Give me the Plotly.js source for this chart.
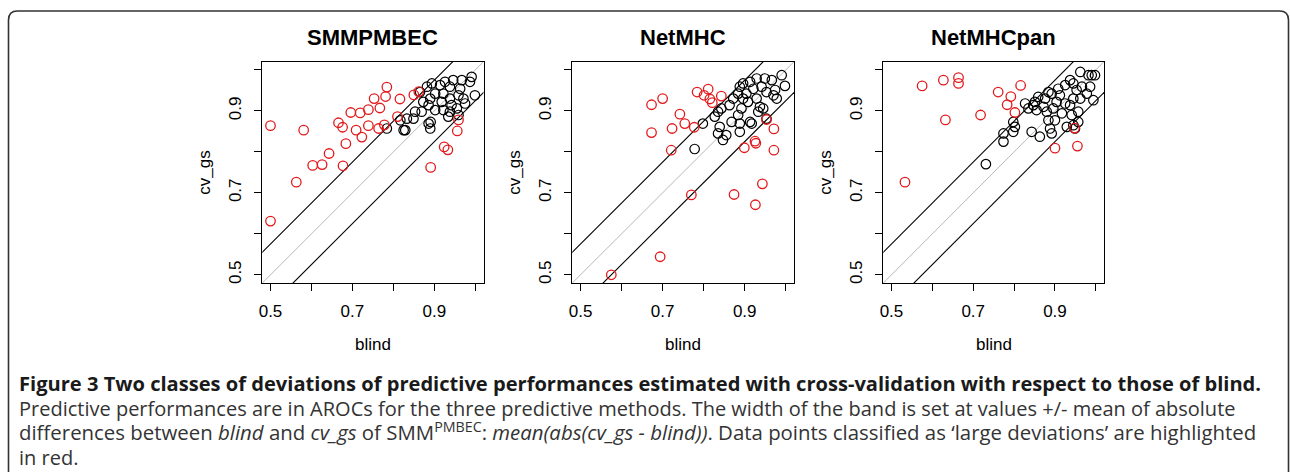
<!DOCTYPE html>
<html>
<head>
<meta charset="utf-8">
<script src="https://cdn.plot.ly/plotly-3.0.1.min.js"></script>
<style>html,body{margin:0;padding:0;background:#fff;}#chart{width:1290px;height:472px;}</style>
</head>
<body>
<div id="chart"></div>
<script>
// ---------- data (AROC values) ----------
const panelTitles = ['SMMPMBEC', 'NetMHC', 'NetMHCpan'];
const labelTickVals = [0.5, 0.7, 0.9];
const labelTickText = ['0.5', '0.7', '0.9'];
const minorTickVals = [0.6, 0.8, 1.0];
const bandHalfWidth = 0.075; // mean(abs(cv_gs - blind)) of SMM-PMBEC

// SMMPMBEC
const smmBlindLarge = [0.500,0.500,0.581,0.563,0.603,0.626,0.643,0.677,0.684,0.666,0.676,0.696,0.719,0.709,0.723,0.739,0.739,0.764,0.767,0.753,0.781,0.784,0.778,0.816,0.810,0.850,0.862,0.891,0.924,0.933,0.959,0.956];
const smmCvLarge    = [0.864,0.631,0.853,0.726,0.767,0.769,0.796,0.766,0.820,0.871,0.860,0.896,0.895,0.853,0.836,0.903,0.864,0.857,0.907,0.930,0.935,0.958,0.866,0.929,0.886,0.939,0.947,0.762,0.812,0.805,0.878,0.851];
const smmBlindSmall = [0.946,0.967,0.991,0.987,0.963,0.938,0.922,0.914,0.894,0.882,0.865,0.873,0.890,0.886,0.918,0.938,0.942,0.959,0.971,0.975,0.999,0.955,0.938,0.922,0.902,0.869,0.853,0.849,0.833,0.817,0.784,0.829,0.886,0.890,0.934,0.959,0.902,0.926,0.825,0.891];
const smmCvSmall    = [0.975,0.975,0.983,0.971,0.954,0.959,0.942,0.963,0.967,0.959,0.946,0.922,0.930,0.914,0.922,0.930,0.914,0.938,0.930,0.918,0.938,0.906,0.898,0.902,0.902,0.898,0.898,0.881,0.881,0.877,0.857,0.853,0.869,0.857,0.886,0.890,0.942,0.971,0.853,0.873];

// NetMHC
const netBlindLarge = [0.575,0.694,0.770,0.874,0.926,0.943,0.899,0.925,0.927,0.971,0.971,0.953,0.721,0.673,0.723,0.754,0.742,0.777,0.673,0.700,0.784,0.801,0.811,0.815,0.821,0.843];
const netCvLarge    = [0.500,0.544,0.695,0.696,0.671,0.722,0.810,0.826,0.821,0.804,0.856,0.879,0.804,0.847,0.857,0.869,0.892,0.860,0.915,0.930,0.946,0.938,0.953,0.929,0.920,0.936];
const netBlindSmall = [0.778,0.798,0.827,0.835,0.843,0.839,0.835,0.855,0.868,0.863,0.872,0.884,0.888,0.896,0.913,0.929,0.949,0.966,0.990,0.998,0.974,0.970,0.953,0.941,0.921,0.904,0.896,0.908,0.929,0.937,0.933,0.945,0.892,0.884,0.888,0.913,0.917,0.888,0.953,0.847,0.978];
const netCvSmall    = [0.807,0.869,0.886,0.898,0.906,0.861,0.845,0.841,0.873,0.914,0.930,0.942,0.959,0.967,0.971,0.979,0.979,0.975,0.987,0.961,0.951,0.938,0.946,0.959,0.954,0.942,0.930,0.922,0.930,0.910,0.898,0.906,0.906,0.890,0.869,0.873,0.869,0.849,0.881,0.829,0.930];

// NetMHCpan
const panBlindLarge = [0.533,0.575,0.627,0.664,0.664,0.632,0.718,0.761,0.792,0.783,0.802,0.816,0.900,0.955,0.948];
const panCvLarge    = [0.726,0.961,0.975,0.981,0.967,0.878,0.890,0.946,0.935,0.915,0.896,0.962,0.809,0.814,0.858];
const panBlindSmall = [0.731,0.774,0.774,0.798,0.802,0.798,0.843,0.863,0.892,0.888,0.847,0.851,0.859,0.876,0.872,0.880,0.884,0.900,0.896,0.904,0.912,0.892,0.884,0.908,0.925,0.937,0.945,0.962,0.982,0.990,0.998,0.986,0.978,0.994,0.962,0.945,0.937,0.925,0.917,0.941,0.957,0.957,0.945,0.949,0.929,0.827,0.835,0.855,0.953,0.966];
const panCvSmall    = [0.770,0.825,0.845,0.849,0.861,0.873,0.849,0.837,0.845,0.857,0.914,0.922,0.934,0.930,0.910,0.898,0.877,0.877,0.906,0.922,0.938,0.942,0.946,0.954,0.963,0.975,0.967,0.995,0.987,0.987,0.987,0.959,0.942,0.926,0.930,0.930,0.914,0.918,0.894,0.890,0.898,0.873,0.865,0.857,0.861,0.918,0.906,0.902,0.951,0.959];

const panels = [
  {bs: smmBlindSmall, cs: smmCvSmall, bl: smmBlindLarge, cl: smmCvLarge},
  {bs: netBlindSmall, cs: netCvSmall, bl: netBlindLarge, cl: netCvLarge},
  {bs: panBlindSmall, cs: panCvSmall, bl: panBlindLarge, cl: panCvLarge}
];

// ---------- geometry (pixels of the 1290x472 page) ----------
const W = 1290, H = 472;
const boxX = [[262.3, 483.5], [572.3, 794], [883.3, 1104]];
const boxY = [61.7, 283];
const px = v => v / W;
const py = v => 1 - v / H;

const RED = '#e31a1c';
const traces = [];
const layout = {
  width: W, height: H,
  margin: {l: 0, r: 0, t: 0, b: 0},
  paper_bgcolor: '#fff', plot_bgcolor: '#fff',
  showlegend: false,
  font: {family: 'Liberation Sans, Arial, sans-serif', color: '#000'},
  annotations: [], shapes: []
};

const lineX = [0.3, 1.2];
panels.forEach((p, i) => {
  const k = i === 0 ? '' : String(i + 1);
  const xa = 'x' + k, ya = 'y' + k;
  // reference lines
  traces.push({x: lineX, y: lineX, xaxis: xa, yaxis: ya, mode: 'lines', line: {color: '#b8b8b8', width: 1}, hoverinfo: 'skip'});
  traces.push({x: lineX, y: lineX.map(v => v + bandHalfWidth), xaxis: xa, yaxis: ya, mode: 'lines', line: {color: '#000', width: 1.1}, hoverinfo: 'skip'});
  traces.push({x: lineX, y: lineX.map(v => v - bandHalfWidth), xaxis: xa, yaxis: ya, mode: 'lines', line: {color: '#000', width: 1.1}, hoverinfo: 'skip'});
  // points
  traces.push({x: p.bs, y: p.cs, xaxis: xa, yaxis: ya, mode: 'markers', cliponaxis: true,
    marker: {symbol: 'circle-open', size: 9.5, color: '#000', line: {width: 1.2, color: '#000'}}});
  traces.push({x: p.bl, y: p.cl, xaxis: xa, yaxis: ya, mode: 'markers', cliponaxis: true,
    marker: {symbol: 'circle-open', size: 9.5, color: RED, line: {width: 1.3, color: RED}}});

  const common = {
    range: [0.48, 1.02], tickvals: labelTickVals, ticktext: labelTickText,
    ticks: 'outside', ticklen: 7, tickwidth: 1, tickcolor: '#000',
    minor: {tickvals: minorTickVals, ticks: 'outside', ticklen: 7, tickwidth: 1, tickcolor: '#000', showgrid: false},
    showline: true, mirror: true, linecolor: '#000', linewidth: 1,
    showgrid: false, zeroline: false, fixedrange: true,
    tickfont: {family: 'Liberation Sans, Arial, sans-serif', size: 17, color: '#000'}
  };
  layout['xaxis' + k] = Object.assign({}, common, {domain: [px(boxX[i][0]), px(boxX[i][1])], anchor: ya, ticklabelstandoff: 6});
  layout['yaxis' + k] = Object.assign({}, common, {domain: [py(boxY[1]), py(boxY[0])], anchor: xa, tickangle: -90, ticklabelstandoff: 7});

  const cx = (boxX[i][0] + boxX[i][1]) / 2;
  layout.annotations.push({xref: 'paper', yref: 'paper', x: px(cx), y: py(37), xanchor: 'center', yanchor: 'middle', showarrow: false,
    text: '<b>' + panelTitles[i] + '</b>', font: {size: 22, color: '#000', family: 'Liberation Sans, Arial, sans-serif'}});
  layout.annotations.push({xref: 'paper', yref: 'paper', x: px(cx), y: py(344), xanchor: 'center', yanchor: 'middle', showarrow: false,
    text: 'blind', font: {size: 17, color: '#000'}});
  layout.annotations.push({xref: 'paper', yref: 'paper', x: px(boxX[i][0] - 58), y: py((boxY[0] + boxY[1]) / 2), xanchor: 'center', yanchor: 'middle', showarrow: false,
    textangle: -90, text: 'cv_gs', font: {size: 17, color: '#000'}});
});

// caption (one multi-line block; base size sets the line pitch)
const captionLines = [
  '<span style="font-size:20.1px;color:#1a1a1a"><b>Figure 3 Two classes of deviations of predictive performances estimated with cross-validation with respect to those of blind.</b></span>',
  '<span style="font-size:20px">Predictive performances are in AROCs for the three predictive methods. The width of the band is set at values +/- mean of absolute</span>',
  '<span style="font-size:20.4px">differences between <i>blind</i> and <i>cv_gs</i> of SMM<sup>PMBEC</sup>: <i>mean(abs(cv_gs - blind))</i>. Data points classified as ‘large deviations’ are highlighted</span>',
  '<span style="font-size:20px">in red.</span>'
];
layout.annotations.push({xref: 'paper', yref: 'paper', x: px(17), y: py(420), xanchor: 'left', yanchor: 'middle', align: 'left', showarrow: false,
  text: captionLines.join('<br>'), font: {family: 'Open Sans, sans-serif', size: 19, color: '#333'}});

// frame around the figure
const fx0 = 8.5, fy0 = 11, fx1 = 1288.5, fy1 = 480, r = 9;
layout.shapes.push({type: 'path', xref: 'paper', yref: 'paper', layer: 'above',
  path: `M ${px(fx0)},${py(fy1)} L ${px(fx0)},${py(fy0 + r)} Q ${px(fx0)},${py(fy0)} ${px(fx0 + r)},${py(fy0)} L ${px(fx1 - r)},${py(fy0)} Q ${px(fx1)},${py(fy0)} ${px(fx1)},${py(fy0 + r)} L ${px(fx1)},${py(fy1)}`,
  line: {color: '#333', width: 1.6}});

Plotly.newPlot('chart', traces, layout, {staticPlot: true, displayModeBar: false});
</script>
</body>
</html>
